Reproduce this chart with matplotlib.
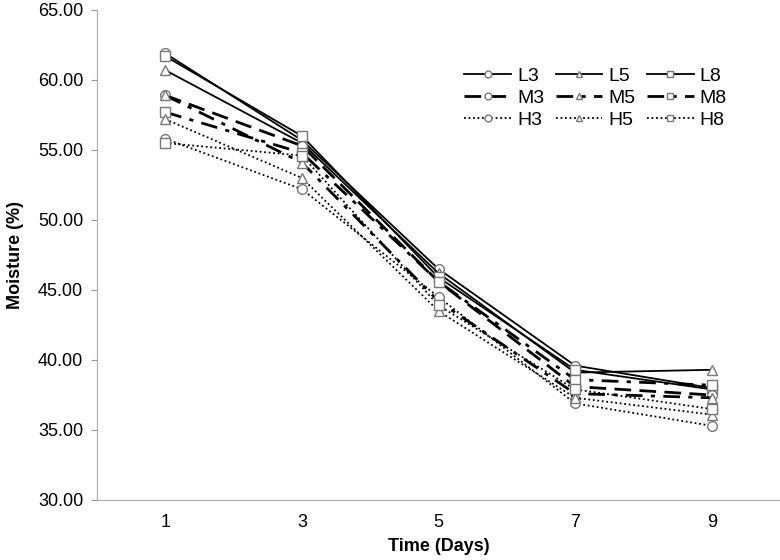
import numpy as np
import matplotlib.pyplot as plt

plt.rcParams['font.family'] = ['Liberation Sans', 'DejaVu Sans']

# dados
days = [1, 3, 5, 7, 9]
labels = ['L3', 'L5', 'L8', 'M3', 'M5', 'M8', 'H3', 'H5', 'H8']
L3 = [61.9, 55.7, 46.5, 39.6, 38.0]
L5 = [60.7, 55.5, 46.2, 39.1, 39.3]
L8 = [61.7, 56.0, 45.9, 39.3, 37.9]
M3 = [58.9, 55.3, 45.6, 38.1, 37.5]
M5 = [58.9, 54.1, 44.2, 37.6, 37.3]
M8 = [57.7, 54.8, 45.6, 38.6, 38.2]
H3 = [55.8, 52.2, 44.5, 36.9, 35.3]
H5 = [57.2, 53.0, 43.5, 37.3, 36.1]
H8 = [55.5, 54.6, 43.9, 37.9, 36.5]
series = [L3, L5, L8, M3, M5, M8, H3, H5, H8]

markers = ['o', '^', 's'] * 3
styles = ['-'] * 3 + [(0, (6, 3)), (0, (6, 3, 1.5, 3)), (0, (6, 3, 1.5, 3))] + [(0, (1, 1.5))] * 3
widths = [1.3] * 3 + [2.0] * 3 + [1.3] * 3

fig = plt.figure(figsize=(7.8, 5.6), dpi=100)
ax = fig.add_axes([97/780, 60/560, 683/780, 490/560])

handles = []
for vals, lab, mk, ls, lw in zip(series, labels, markers, styles, widths):
    h, = ax.plot(days, vals, color='black', linestyle=ls, linewidth=lw, marker=mk,
                 markersize=7, markerfacecolor='white', markeredgecolor='#777777',
                 markeredgewidth=1.0, label=lab)
    handles.append(h)

ax.set_xlim(0, 10)
ax.set_ylim(30, 65)
ax.set_xticks(days)
ax.set_yticks(np.arange(30, 66, 5))
ax.set_yticklabels(['%.2f' % v for v in np.arange(30, 66, 5)])
ax.tick_params(axis='x', length=0, pad=10, labelsize=13)
ax.tick_params(axis='y', length=4, color='#999999', labelsize=13, pad=6)
for s in ['top', 'right']:
    ax.spines[s].set_visible(False)
for s in ['left', 'bottom']:
    ax.spines[s].set_color('#aaaaaa')

ax.set_xlabel('Time (Days)', fontsize=13, fontweight='bold', labelpad=5)
ax.set_ylabel('Moisture (%)', fontsize=13, fontweight='bold', labelpad=10)

# legenda preenchida por linhas (L, M, H)
ordem = [0, 3, 6, 1, 4, 7, 2, 5, 8]
ax.legend([handles[i] for i in ordem], [labels[i] for i in ordem],
          ncol=3, frameon=False, fontsize=14, loc='upper left',
          bbox_to_anchor=(0.538, 0.883), borderaxespad=0, borderpad=0,
          handlelength=2.4, columnspacing=0.6, handletextpad=0.3,
          labelspacing=0.22, markerscale=0.7)

plt.savefig('out.png', dpi=100)
